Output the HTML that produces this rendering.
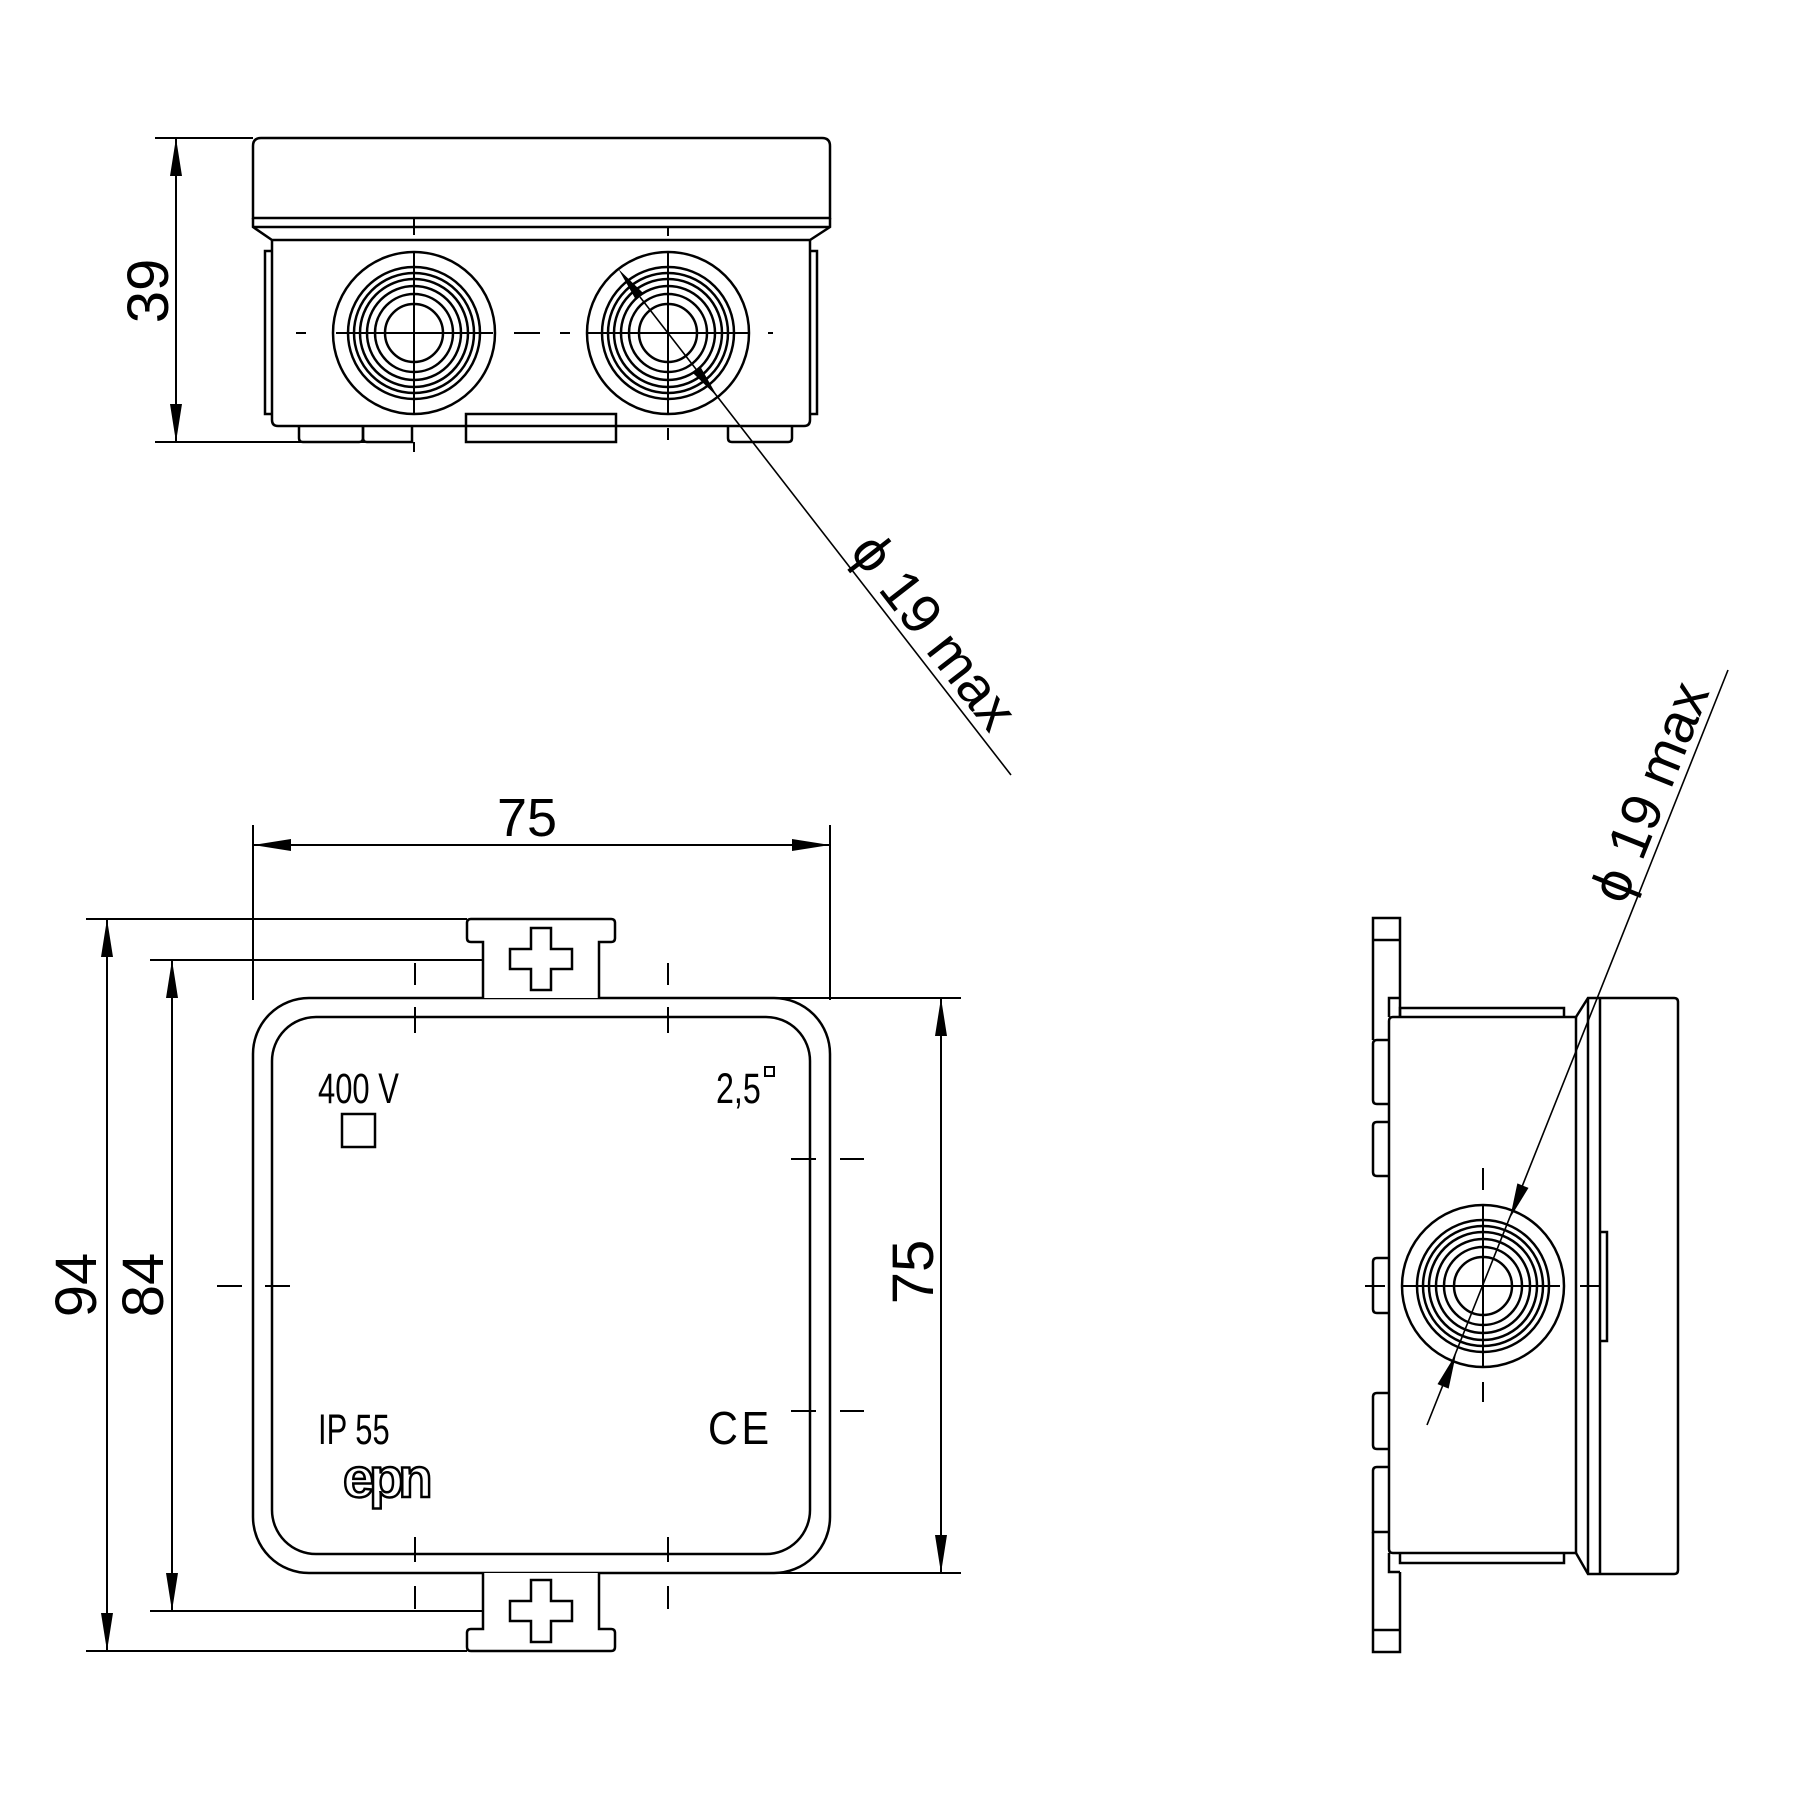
<!DOCTYPE html>
<html><head><meta charset="utf-8"><style>
html,body{margin:0;padding:0;background:#fff;}
svg{display:block;}
text{font-family:"Liberation Sans",sans-serif;fill:#000;}
</style></head><body>
<svg width="1800" height="1800" viewBox="0 0 1800 1800" xmlns="http://www.w3.org/2000/svg">
<defs>
<g id="rings" fill="none" stroke="#000" stroke-width="2.5">
<circle r="81"/><circle r="66"/><circle r="60"/><circle r="54"/><circle r="47"/><circle r="39"/><circle r="29"/>
</g>
<path id="cross" d="M-10,-31 H10 V-10 H31 V10 H10 V31 H-10 V10 H-31 V-10 H-10 Z" fill="#fff" stroke="#000" stroke-width="2.5"/>
</defs>

<g fill="none" stroke="#000" stroke-width="2.5">
<!-- ===== TOP VIEW ===== -->
<path d="M261,138 H822 Q830,138 830,146 V218 H253 V146 Q253,138 261,138 Z"/>
<line x1="253" y1="227" x2="830" y2="227"/>
<path d="M253,218 V227 L272,240 H810 L830,227 V218"/>
<path d="M272,240 V420 Q272,426 278,426 H804 Q810,426 810,420 V240"/>
<path d="M272,251 H265 V414 H272"/>
<path d="M810,251 H817 V414 H810"/>
<path d="M299,426 V438 Q299,442 303,442 H359 Q363,442 363,438 V426"/>
<path d="M363,426 V438 Q363,442 367,442 H412 V426"/>
<rect x="466" y="414" width="150" height="28"/>
<path d="M728,426 V438 Q728,442 732,442 H788 Q792,442 792,438 V426"/>
</g>
<use href="#rings" x="414" y="333"/>
<use href="#rings" x="668" y="333"/>
<g stroke="#000" stroke-width="2">
<line x1="296" y1="333" x2="306" y2="333"/>
<line x1="336" y1="333" x2="493" y2="333"/>
<line x1="514" y1="333" x2="540" y2="333"/>
<line x1="560" y1="333" x2="570" y2="333"/>
<line x1="586" y1="333" x2="750" y2="333"/>
<line x1="768" y1="333" x2="773" y2="333"/>
<line x1="414" y1="218" x2="414" y2="235"/>
<line x1="414" y1="253" x2="414" y2="414"/>
<line x1="414" y1="442" x2="414" y2="452"/>
<line x1="668" y1="227" x2="668" y2="236"/>
<line x1="668" y1="253" x2="668" y2="414"/>
<line x1="668" y1="428" x2="668" y2="440"/>
</g>
<!-- 39 dim -->
<g stroke="#000" stroke-width="2">
<line x1="155" y1="138" x2="253" y2="138"/>
<line x1="155" y1="442" x2="412" y2="442"/>
<line x1="176" y1="138" x2="176" y2="442"/>
</g>
<path d="M176,138 L170,176 L182,176 Z M176,442 L170,404 L182,404 Z" fill="#000"/>
<text transform="translate(168,291) rotate(-90)" font-size="58" text-anchor="middle">39</text>
<!-- diagonal leader top -->
<line x1="640" y1="297" x2="1011" y2="775" stroke="#000" stroke-width="1.6"/>
<g transform="translate(668,333) rotate(52.2)" fill="#000">
<path d="M-81,0 L-46,-5 L-46,5 Z"/>
<path d="M81,0 L46,-5 L46,5 Z"/>
</g>
<text transform="translate(842,557) rotate(52.2)" x="0" y="-8" font-size="56">ϕ 19 max</text>

<!-- ===== FRONT VIEW ===== -->
<g stroke="#000" stroke-width="2">
<line x1="253" y1="825" x2="253" y2="1000"/>
<line x1="830" y1="825" x2="830" y2="1000"/>
<line x1="253" y1="845" x2="830" y2="845"/>
<line x1="86" y1="919" x2="467" y2="919"/>
<line x1="86" y1="1651" x2="467" y2="1651"/>
<line x1="107" y1="919" x2="107" y2="1651"/>
<line x1="150" y1="960" x2="515" y2="960"/>
<line x1="150" y1="1611" x2="515" y2="1611"/>
<line x1="172" y1="960" x2="172" y2="1611"/>
<line x1="770" y1="998" x2="961" y2="998"/>
<line x1="770" y1="1573" x2="961" y2="1573"/>
<line x1="941" y1="998" x2="941" y2="1573"/>
</g>
<path d="M253,845 L291,839 L291,851 Z M830,845 L792,839 L792,851 Z
M107,919 L101,957 L113,957 Z M107,1651 L101,1613 L113,1613 Z
M172,960 L166,998 L178,998 Z M172,1611 L166,1573 L178,1573 Z
M941,998 L935,1036 L947,1036 Z M941,1573 L935,1535 L947,1535 Z" fill="#000"/>
<text x="527" y="836" font-size="54" text-anchor="middle">75</text>
<text transform="translate(96,1285) rotate(-90)" font-size="58" text-anchor="middle">94</text>
<text transform="translate(163,1285) rotate(-90)" font-size="58" text-anchor="middle">84</text>
<text transform="translate(933,1272) rotate(-90)" font-size="58" text-anchor="middle">75</text>

<g fill="none" stroke="#000" stroke-width="2.5">
<rect x="253" y="998" width="577" height="575" rx="56"/>
<rect x="272" y="1017" width="538" height="537" rx="44"/>
<path d="M483,998 V942 H471 Q467,942 467,938 V923 Q467,919 471,919 H611 Q615,919 615,923 V938 Q615,942 611,942 H599 V998" fill="#fff"/>
<path d="M483,1573 V1629 H471 Q467,1629 467,1633 V1647 Q467,1651 471,1651 H611 Q615,1651 615,1647 V1633 Q615,1629 611,1629 H599 V1573" fill="#fff"/>
</g>
<use href="#cross" x="541" y="959"/>
<use href="#cross" x="541" y="1611"/>
<g stroke="#000" stroke-width="2">
<line x1="415" y1="963" x2="415" y2="985"/><line x1="415" y1="1007" x2="415" y2="1033"/>
<line x1="415" y1="1537" x2="415" y2="1562"/><line x1="415" y1="1586" x2="415" y2="1609"/>
<line x1="668" y1="963" x2="668" y2="985"/><line x1="668" y1="1007" x2="668" y2="1033"/>
<line x1="668" y1="1537" x2="668" y2="1562"/><line x1="668" y1="1586" x2="668" y2="1609"/>
<line x1="217" y1="1286" x2="242" y2="1286"/><line x1="265" y1="1286" x2="290" y2="1286"/>
<line x1="791" y1="1159" x2="816" y2="1159"/><line x1="840" y1="1159" x2="864" y2="1159"/>
<line x1="791" y1="1411" x2="816" y2="1411"/><line x1="840" y1="1411" x2="864" y2="1411"/>
</g>
<text transform="translate(318,1103) scale(0.72,1)" font-size="43">400 V</text>
<rect x="342" y="1114" width="33" height="33" fill="none" stroke="#000" stroke-width="2.5"/>
<text transform="translate(716,1103) scale(0.75,1)" font-size="43">2,5</text>
<rect x="765" y="1067" width="9" height="9" fill="none" stroke="#000" stroke-width="2"/>
<text transform="translate(318,1444) scale(0.72,1)" font-size="43">IP 55</text>
<text transform="translate(708,1444) scale(0.9,1)" font-size="46" letter-spacing="4">CE</text>
<text x="343" y="1497" font-size="56" font-weight="bold" letter-spacing="-5" style="fill:#fff;stroke:#000;stroke-width:2.5">epn</text>

<!-- ===== SIDE VIEW ===== -->
<g fill="none" stroke="#000" stroke-width="2.5">
<path d="M1400,1017 V918 H1373 V1040"/>
<line x1="1373" y1="940" x2="1400" y2="940"/>
<path d="M1389,1040 H1377 Q1373,1040 1373,1044 V1100 Q1373,1104 1377,1104 H1389"/>
<path d="M1389,1122 H1377 Q1373,1122 1373,1126 V1172 Q1373,1176 1377,1176 H1389"/>
<path d="M1389,1258 H1377 Q1373,1258 1373,1262 V1309 Q1373,1313 1377,1313 H1389"/>
<path d="M1389,1393 H1377 Q1373,1393 1373,1397 V1445 Q1373,1449 1377,1449 H1389"/>
<path d="M1389,1467 H1377 Q1373,1467 1373,1471 V1532 H1389"/>
<path d="M1373,1532 V1652 H1400 V1572"/>
<line x1="1373" y1="1630" x2="1400" y2="1630"/>
<path d="M1389,1017 V998 H1400"/>
<path d="M1389,1553 V1572 H1400"/>
<path d="M1400,1017 V1008 H1564 V1017"/>
<path d="M1400,1553 V1563 H1564 V1553"/>
<path d="M1393,1017 H1576 V1553 H1393 Q1389,1553 1389,1549 V1021 Q1389,1017 1393,1017 Z"/>
<path d="M1576,1017 L1588,998 H1674 Q1678,998 1678,1002 V1570 Q1678,1574 1674,1574 H1588 L1576,1553"/>
<line x1="1588" y1="998" x2="1588" y2="1574"/>
<line x1="1600" y1="998" x2="1600" y2="1574"/>
<path d="M1600,1232 H1607 V1341 H1600"/>
</g>
<use href="#rings" x="1483" y="1286"/>
<g stroke="#000" stroke-width="2">
<line x1="1365" y1="1286" x2="1385" y2="1286"/>
<line x1="1402" y1="1286" x2="1560" y2="1286"/>
<line x1="1580" y1="1286" x2="1600" y2="1286"/>
<line x1="1483" y1="1168" x2="1483" y2="1190"/>
<line x1="1483" y1="1204" x2="1483" y2="1368"/>
<line x1="1483" y1="1382" x2="1483" y2="1402"/>
</g>
<line x1="1427" y1="1425" x2="1728" y2="670" stroke="#000" stroke-width="1.6"/>
<g transform="translate(1483,1286) rotate(-68.3)" fill="#000">
<path d="M73,0 L108,-6 L108,6 Z"/>
<path d="M-73,0 L-108,-6 L-108,6 Z"/>
</g>
<text transform="translate(1632,909) rotate(-68.3)" x="0" y="-8" font-size="56">ϕ 19 max</text>
</svg>
</body></html>
